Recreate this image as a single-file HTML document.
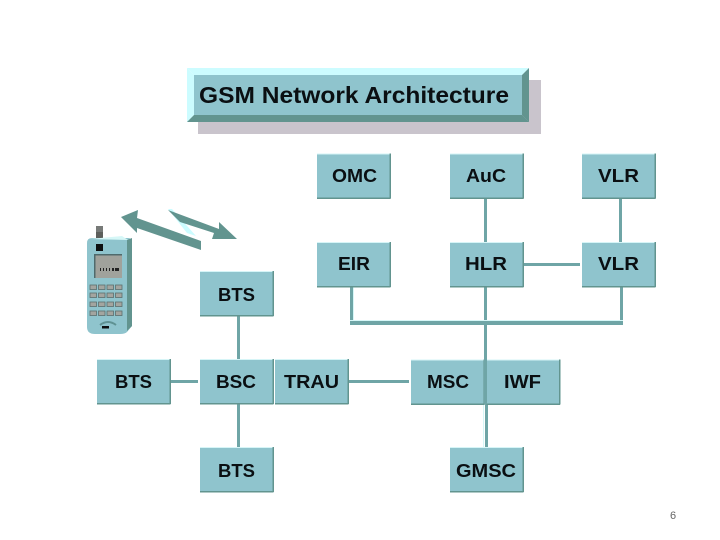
<!DOCTYPE html>
<html>
<head>
<meta charset="utf-8">
<style>
html,body{margin:0;padding:0;background:#fff;width:720px;height:540px;overflow:hidden}
svg{display:block}
text{font-family:"Liberation Sans",sans-serif;font-weight:bold;fill:#0a0f12}
</style>
</head>
<body>
<svg width="720" height="540" viewBox="0 0 720 540" xmlns="http://www.w3.org/2000/svg">
<defs>
<g id="b">
<rect x="0" y="0" width="73.500" height="45" fill="#8fc4cd"/>
<rect x="0" y="0" width="73.500" height="1" fill="#d6f5f7"/>
<rect x="0" y="44" width="73.500" height="1.500" fill="#62948f"/>
<rect x="72.500" y="0" width="1.500" height="45" fill="#62948f"/>
</g>
</defs>

<!-- title -->
<rect x="198" y="80" width="343" height="54" fill="#c9c4cc"/>
<polygon points="187,68 529,68 522,75 194,75" fill="#ccfcff"/>
<polygon points="187,68 194,75 194,115 187,122" fill="#ccfcff"/>
<polygon points="529,68 529,122 522,115 522,75" fill="#62948f"/>
<polygon points="187,122 194,115 522,115 529,122" fill="#62948f"/>
<rect x="194" y="75" width="328" height="40" fill="#8fc4cd"/>
<text x="199" y="103" font-size="23" textLength="310" lengthAdjust="spacingAndGlyphs">GSM Network Architecture</text>

<!-- connectors -->
<g fill="#6fa5a6">
<rect x="484" y="199" width="3" height="43"/>
<rect x="619" y="199" width="3" height="43"/>
<rect x="523" y="263" width="57" height="3"/>
<rect x="350" y="286" width="3" height="36"/>
<rect x="484" y="286" width="3" height="74"/>
<rect x="620" y="286" width="3" height="36"/>
<rect x="350" y="321" width="273" height="4"/>
<rect x="237" y="315" width="3" height="44"/>
<rect x="237" y="404" width="3" height="43"/>
<rect x="171" y="380" width="27" height="3"/>
<rect x="349" y="380" width="60" height="3"/>
<rect x="485" y="404" width="3" height="43"/>
</g>
<g fill="#d6f7f7">
<rect x="350" y="320" width="273" height="1"/>
<rect x="353" y="286" width="1" height="34"/>
<rect x="483" y="404" width="1" height="43"/>
</g>

<!-- boxes -->
<use href="#b" x="317" y="153.500"/>
<use href="#b" x="450" y="153.500"/>
<use href="#b" x="582" y="153.500"/>
<use href="#b" x="317" y="242"/>
<use href="#b" x="450" y="242"/>
<use href="#b" x="582" y="242"/>
<use href="#b" x="200" y="271"/>
<use href="#b" x="97" y="359"/>
<use href="#b" x="200" y="359"/>
<use href="#b" x="275" y="359"/>
<use href="#b" x="411" y="359.500"/>
<use href="#b" x="486.500" y="359.500"/>
<use href="#b" x="200" y="447"/>
<use href="#b" x="450" y="447"/>
<rect x="484" y="348" width="3" height="56" fill="#6fa5a6"/>

<!-- labels -->
<g font-size="18">
<text x="332" y="182" textLength="45" lengthAdjust="spacingAndGlyphs">OMC</text>
<text x="466" y="182" textLength="40" lengthAdjust="spacingAndGlyphs">AuC</text>
<text x="598" y="182" textLength="41" lengthAdjust="spacingAndGlyphs">VLR</text>
<text x="338" y="270" textLength="32" lengthAdjust="spacingAndGlyphs">EIR</text>
<text x="465" y="270" textLength="42" lengthAdjust="spacingAndGlyphs">HLR</text>
<text x="598" y="270" textLength="41" lengthAdjust="spacingAndGlyphs">VLR</text>
<text x="218" y="301" textLength="37" lengthAdjust="spacingAndGlyphs">BTS</text>
<text x="115" y="388" textLength="37" lengthAdjust="spacingAndGlyphs">BTS</text>
<text x="216" y="388" textLength="40" lengthAdjust="spacingAndGlyphs">BSC</text>
<text x="284" y="388" textLength="55" lengthAdjust="spacingAndGlyphs">TRAU</text>
<text x="427" y="388" textLength="42" lengthAdjust="spacingAndGlyphs">MSC</text>
<text x="504" y="388" textLength="37" lengthAdjust="spacingAndGlyphs">IWF</text>
<text x="218" y="477" textLength="37" lengthAdjust="spacingAndGlyphs">BTS</text>
<text x="456" y="477" textLength="60" lengthAdjust="spacingAndGlyphs">GMSC</text>
</g>

<!-- radio arrows -->
<polygon points="168,209 172,209 196,236 187,233" fill="#ccfcff"/>
<polygon points="121,217 138,210 137,218 201,241 201,250 137,228 137,233" fill="#62948f"/>
<polygon points="168,210 219,229 219,222 237,239 212,239 214,233 180,222" fill="#62948f"/>

<!-- phone -->
<rect x="96" y="226" width="7" height="14" fill="#5d5f5c"/>
<rect x="96" y="226" width="7" height="6" fill="#777a78"/>
<path d="M92,238 H128 Q132,238 132,242 V326 L127,332 Q125,334 120,334 H95 Q87,334 87,327 V243 Q87,238 92,238 Z" fill="#8fc4cd"/>
<polygon points="127,240 132,238 132,326 127,331" fill="#62948f"/>
<polygon points="90,239 122,236 128,240" fill="#d6f7f7"/>
<rect x="96" y="244" width="7" height="7" fill="#0d0f10"/>
<rect x="94" y="255" width="28" height="23" fill="#a0a29c"/>
<rect x="94" y="254" width="28" height="1.500" fill="#4f6a6c"/>
<rect x="94" y="255" width="1.500" height="23" fill="#4f6a6c"/>
<g fill="#222">
<rect x="100" y="268" width="1" height="3"/><rect x="103" y="268" width="1" height="3"/>
<rect x="106" y="268" width="1" height="3"/><rect x="109" y="268" width="1" height="3"/>
<rect x="112" y="268" width="2" height="3"/><rect x="115" y="268" width="4" height="3"/>
</g>
<g fill="#a3a5a0" stroke="#5c6f6e" stroke-width="0.800">
<rect x="90" y="285" width="6.500" height="4.500"/><rect x="98.500" y="285" width="6.500" height="4.500"/><rect x="107" y="285" width="6.500" height="4.500"/><rect x="115.500" y="285" width="6.500" height="4.500"/>
<rect x="90" y="293" width="6.500" height="4.500"/><rect x="98.500" y="293" width="6.500" height="4.500"/><rect x="107" y="293" width="6.500" height="4.500"/><rect x="115.500" y="293" width="6.500" height="4.500"/>
<rect x="90" y="302" width="6.500" height="4.500"/><rect x="98.500" y="302" width="6.500" height="4.500"/><rect x="107" y="302" width="6.500" height="4.500"/><rect x="115.500" y="302" width="6.500" height="4.500"/>
<rect x="90" y="311" width="6.500" height="4.500"/><rect x="98.500" y="311" width="6.500" height="4.500"/><rect x="107" y="311" width="6.500" height="4.500"/><rect x="115.500" y="311" width="6.500" height="4.500"/>
</g>
<path d="M100,325 Q108,319 116,325" fill="none" stroke="#5f9293" stroke-width="2"/>
<rect x="102" y="326" width="7" height="2.500" fill="#0d0f10"/>

<!-- page number -->
<text x="670" y="519" font-size="11" style="font-weight:normal;fill:#666">6</text>
</svg>
</body>
</html>
